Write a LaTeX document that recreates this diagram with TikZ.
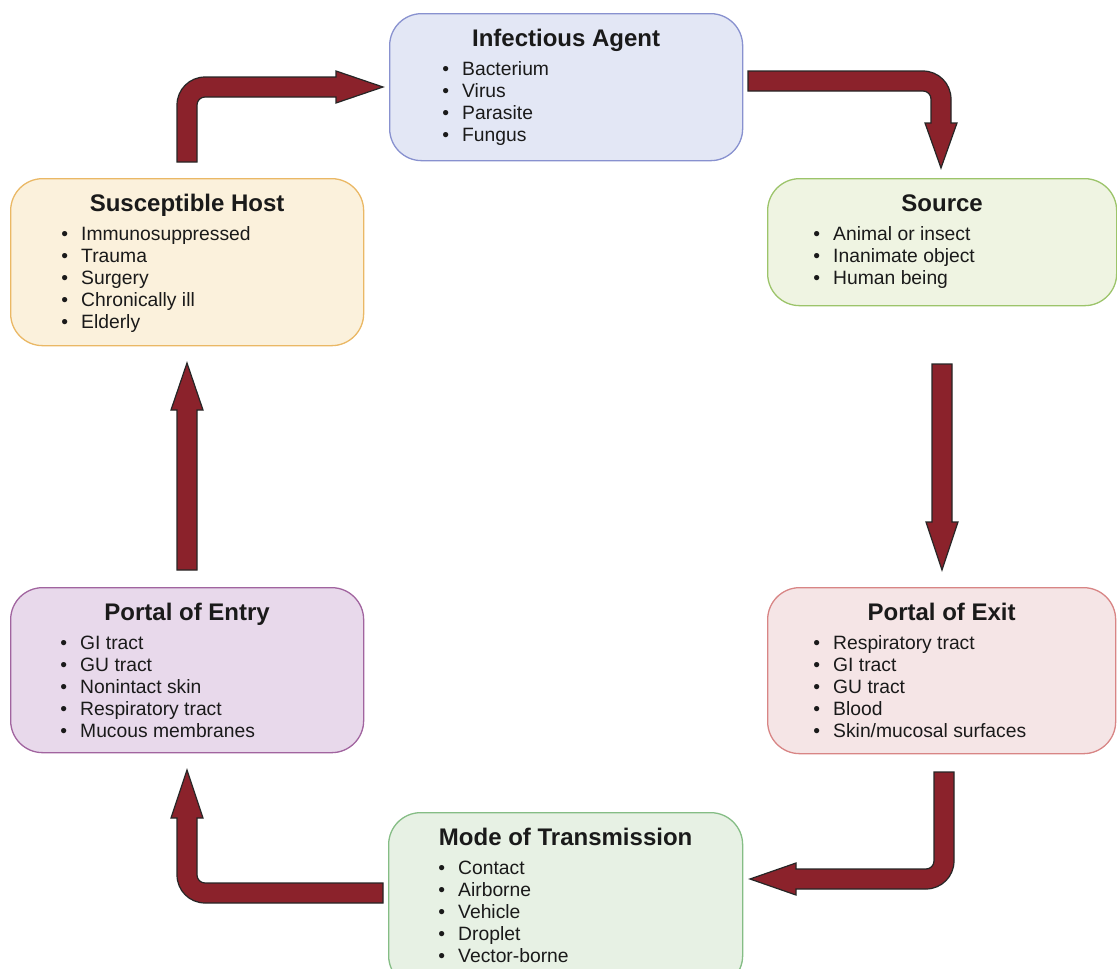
\documentclass[tikz,border=0pt]{standalone}
\usepackage{fontspec}
\setmainfont{Liberation Sans}
\usetikzlibrary{calc}

\definecolor{inktext}{HTML}{1A1A1A}
\definecolor{arrowred}{HTML}{8B222B}
\definecolor{agentfill}{HTML}{E3E7F5}\definecolor{agentline}{HTML}{8891CF}
\definecolor{sourcefill}{HTML}{EFF4E2}\definecolor{sourceline}{HTML}{9CC46A}
\definecolor{exitfill}{HTML}{F5E5E6}\definecolor{exitline}{HTML}{D88585}
\definecolor{modefill}{HTML}{E7F1E4}\definecolor{modeline}{HTML}{85BD85}
\definecolor{entryfill}{HTML}{E8D9EB}\definecolor{entryline}{HTML}{A1649F}
\definecolor{hostfill}{HTML}{FBF1DC}\definecolor{hostline}{HTML}{EAB865}

\tikzset{
  stagebox/.style={draw=#1line, fill=#1fill, line width=1.3pt, rounded corners=32pt,
    inner sep=0pt, anchor=north west},
  stagetitle/.style={anchor=base, inner sep=0pt, text=inktext,
    font=\fontsize{24}{28}\selectfont\bfseries},
  stageitem/.style={anchor=base west, inner sep=0pt, text=inktext,
    font=\fontsize{19.3}{22}\selectfont},
  blockarrow/.style={fill=arrowred, draw=black!85, line width=1.2pt, line join=miter},
}

% a box with its title and bulleted list
\newcommand{\stage}[9]{% name, colour key, left, top, width, height, title, list indent, items
  \node[stagebox=#2, minimum width=#5pt, minimum height=#6pt] (#1) at (#3,#4) {};
  \node[stagetitle] (#1-title) at ($(#1.north)+(0,33)$) {#7};
  \foreach \entry [count=\k from 0] in {#9}
    \node[stageitem] (#1-item-\k) at ($(#1.north west)+(#8,62.5+22*\k)$)
      {\llap{•\hspace{13pt}}\entry};
}

\begin{document}
\begin{tikzpicture}[x=1pt, y=-1pt]
\useasboundingbox (0,0) rectangle (1117,969);
\clip (0,0) rectangle (1117,969);

\stage{agent}{agent}{389}{13}{353}{147}{Infectious Agent}{73}{Bacterium, Virus, Parasite, Fungus}
\stage{source}{source}{767}{178}{349}{127}{Source}{66}{Animal or insect, Inanimate object, Human being}
\stage{exit}{exit}{767}{587}{348}{166}{Portal of Exit}{66}{Respiratory tract, GI tract, GU tract, Blood, Skin/mucosal surfaces}
\stage{mode}{mode}{388}{812}{354}{175}{Mode of Transmission}{70}{Contact, Airborne, Vehicle, Droplet, Vector-borne}
\stage{entry}{entry}{10}{587}{353}{165}{Portal of Entry}{70}{GI tract, GU tract, Nonintact skin, Respiratory tract, Mucous membranes}
\stage{host}{host}{10}{178}{353}{167}{Susceptible Host}{71}{Immunosuppressed, Trauma, Surgery, Chronically ill, Elderly}

% host -> agent : up, then right
\draw[blockarrow] (177,162) -- (177,105) .. controls (177,89.5) and (189.5,77) .. (205,77)
  -- (336,77) -- (336,71) -- (383,87) -- (336,103) -- (336,97) -- (205,97)
  .. controls (200.6,97) and (197,100.6) .. (197,105) -- (197,162) -- cycle;

% agent -> source : right, then down
\draw[blockarrow] (748,71) -- (923,71) .. controls (938.5,71) and (951,83.5) .. (951,99)
  -- (951,123) -- (957,123) -- (941,168) -- (925,123) -- (931,123) -- (931,99)
  .. controls (931,94.6) and (927.4,91) .. (923,91) -- (748,91) -- cycle;

% source -> exit : straight down
\draw[blockarrow] (932,364) -- (952,364) -- (952,522) -- (958,522) -- (942,570)
  -- (926,522) -- (932,522) -- cycle;

% exit -> mode : down, then left
\draw[blockarrow] (934,772) -- (954,772) -- (954,861) .. controls (954,876.5) and (941.5,889) .. (926,889)
  -- (796,889) -- (796,895) -- (750,879) -- (796,863) -- (796,869) -- (926,869)
  .. controls (930.4,869) and (934,865.4) .. (934,861) -- cycle;

% mode -> entry : left, then up
\draw[blockarrow] (383,883) -- (205,883) .. controls (200.6,883) and (197,879.4) .. (197,875)
  -- (197,818) -- (203,818) -- (187,770) -- (171,818) -- (177,818) -- (177,875)
  .. controls (177,890.5) and (189.5,903) .. (205,903) -- (383,903) -- cycle;

% entry -> host : straight up
\draw[blockarrow] (177,570) -- (177,410) -- (171,410) -- (187,363) -- (203,410)
  -- (197,410) -- (197,570) -- cycle;
\end{tikzpicture}
\end{document}
